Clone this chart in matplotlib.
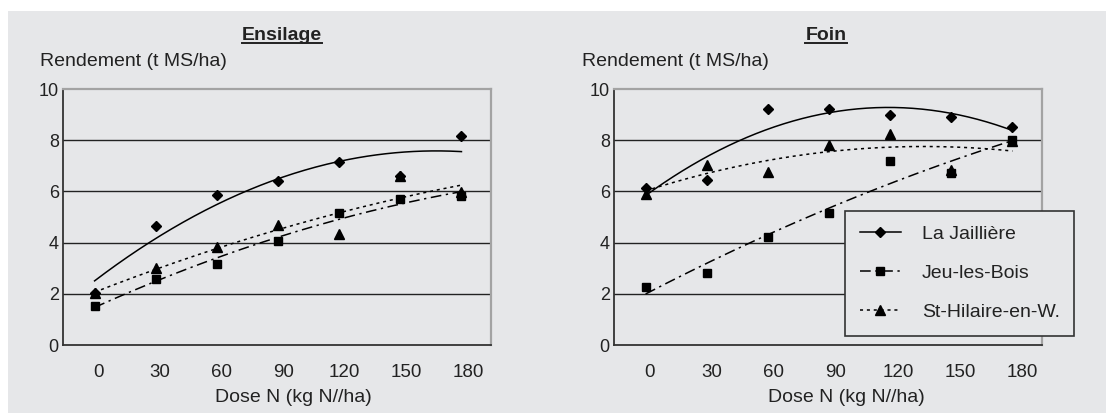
import numpy as np
import matplotlib.pyplot as plt
import matplotlib.transforms as mtransforms
from matplotlib.lines import Line2D
from matplotlib.patches import Rectangle

plt.rcParams['font.family'] = ['Liberation Sans', 'DejaVu Sans']

# données
dose = [0, 30, 60, 90, 120, 150, 180]
sites = ['La Jaillière', 'Jeu-les-Bois', 'St-Hilaire-en-W.']

ens_jailliere = [2.05, 4.65, 5.85, 6.42, 7.16, 6.61, 8.16]
ens_jeu = [1.52, 2.58, 3.15, 4.08, 5.14, 5.69, 5.82]
ens_hilaire = [2.02, 3.02, 3.82, 4.69, 4.32, 6.62, 5.96]

foin_jailliere = [6.12, 6.43, 9.23, 9.23, 8.98, 8.89, 8.52]
foin_jeu = [2.28, 2.80, 4.20, 5.14, 7.20, 6.70, 8.00]
foin_hilaire = [5.89, 7.04, 6.76, 7.81, 8.24, 6.84, 7.95]

W, H = 1106, 413
bg = '#e6e7e9'
fig = plt.figure(figsize=(W / 100, H / 100), dpi=100)
fig.patch.set_facecolor('white')
fig.patches.append(Rectangle((8 / W, 0), 1 - 8 / W, 1 - 11 / H,
                             transform=fig.transFigure, facecolor=bg,
                             edgecolor='none', zorder=-10))

styles = [dict(ls='-', marker='D', ms=5.5),
          dict(ls=(0, (7, 3, 1.5, 3)), marker='s', ms=6),
          dict(ls=(0, (2, 2.5)), marker='^', ms=6.5)]

def panel(left_px, title, title_x, ylab_x, xlab_x, series, step):
    ax = fig.add_axes([left_px / W, (H - 345) / H, 428 / W, 256 / H])
    ax.set_facecolor('none')
    xs = np.linspace(0, 180, 200)
    for vals, st in zip(series, styles):
        # courbe de tendance polynomiale d'ordre 2
        coef = np.polyfit(dose, vals, 2)
        ax.plot(xs, np.polyval(coef, xs), color='black', lw=1.1, ls=st['ls'])
        ax.plot(dose, vals, ls='none', marker=st['marker'], ms=st['ms'],
                color='black', zorder=5)
    ax.set_xlim(-15.5, 194.5)
    ax.set_ylim(0, 10)
    ax.set_yticks([0, 2, 4, 6, 8, 10])
    ax.set_xticks(dose)
    ax.tick_params(length=0, labelsize=13.5, colors='#222222')
    ax.tick_params(axis='y', pad=3, labelsize=13)
    ax.tick_params(axis='x', pad=14)
    for i, lab in enumerate(ax.get_xticklabels()):
        off = mtransforms.ScaledTranslation((4 + i * step) / 100, 0,
                                            fig.dpi_scale_trans)
        lab.set_transform(lab.get_transform() + off)
    for y in [2, 4, 6, 8]:
        ax.axhline(y, color='#222222', lw=1.0, zorder=1)
    for s in ['left', 'bottom']:
        ax.spines[s].set_color('#333333')
        ax.spines[s].set_linewidth(1.3)
    for s in ['top', 'right']:
        ax.spines[s].set_color('#a3a3a3')
        ax.spines[s].set_linewidth(1.6)
    t = fig.text(title_x / W, 1 - 36 / H, title, ha='center', va='center',
                 fontsize=14, fontweight='bold', color='#222222')
    fig.text(ylab_x / W, 1 - 61 / H, 'Rendement (t MS/ha)', ha='left',
             va='center', fontsize=14, color='#222222')
    fig.text(xlab_x / W, 1 - 398 / H, 'Dose N (kg N//ha)', ha='center',
             va='center', fontsize=14, color='#222222')
    return ax, t

ax1, t1 = panel(63, 'Ensilage', 282, 40, 293,
                [ens_jailliere, ens_jeu, ens_hilaire], 0.4)
ax2, t2 = panel(614, 'Foin', 826, 582, 846,
                [foin_jailliere, foin_jeu, foin_hilaire], 1.0)

# soulignement des titres
fig.canvas.draw()
r = fig.canvas.get_renderer()
for t in (t1, t2):
    bb = t.get_window_extent(r).transformed(fig.transFigure.inverted())
    fig.add_artist(Line2D([bb.x0, bb.x1], [bb.y0 + 0.004, bb.y0 + 0.004],
                          transform=fig.transFigure, color='#222222', lw=1.4))

handles = [Line2D([], [], color='black', lw=1.1, ls=st['ls'],
                  marker=st['marker'], ms=st['ms']) for st in styles]
leg = fig.legend(handles, sites, loc='upper left',
                 bbox_to_anchor=(845 / W, 1 - 211 / H), fontsize=14,
                 frameon=True, fancybox=False, facecolor=bg,
                 edgecolor='#333333', framealpha=1, handlelength=2.15,
                 handletextpad=1.05, labelspacing=1.1, borderpad=0.75,
                 borderaxespad=0)
leg.get_frame().set_linewidth(1.2)
for txt in leg.get_texts():
    txt.set_color('#222222')

plt.savefig('out.png', dpi=100)
